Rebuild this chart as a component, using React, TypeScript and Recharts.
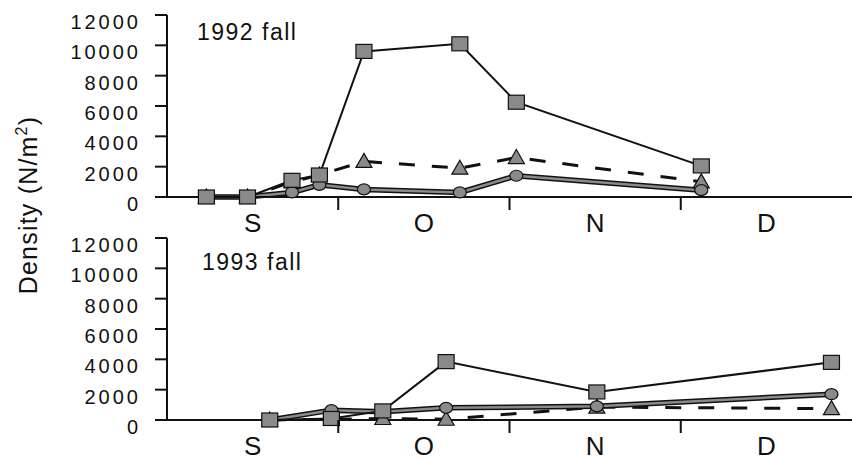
import { LineChart, Line, XAxis, YAxis } from "recharts"

const MONTHS = ["S", "O", "N", "D"]
const X_TICKS = [0.5, 1, 1.5, 2, 2.5, 3, 3.5]
const Y_TICKS = [0, 2000, 4000, 6000, 8000, 10000, 12000]

// sampling dates, in months after 1 Sep
const dates92 = [0.23, 0.47, 0.73, 0.89, 1.15, 1.71, 2.04, 3.12]
const squares92 = [0, 0, 1100, 1450, 9600, 10100, 6250, 2050]
const circles92 = [0, 0, 300, 800, 500, 300, 1400, 450]
const triangles92 = [0, 0, 1000, 1450, 2350, 1900, 2600, 1000]

const dates93 = [0.6, 0.96, 1.26, 1.63, 2.51, 3.88]
const squares93 = [0, 100, 600, 3850, 1850, 3800]
const circles93 = [0, 650, 550, 800, 900, 1700]
const triangles93 = [0, 50, 100, 50, 850, 750]

const FONT = "'Liberation Sans', Arial, Helvetica, sans-serif"
const INK = "#111"
const GREY = "#8a8a8a"

function rows(dates: number[], sq: number[], ci: number[], tr: number[]) {
  return dates.map((m, i) => ({ m, sq: sq[i], ci: ci[i], tr: tr[i] }))
}

function MonthTick(props: any) {
  const { x, y, payload } = props
  const v = payload.value as number
  if (Number.isInteger(v)) {
    return <line x1={x} y1={y} x2={x} y2={y + 13} stroke={INK} strokeWidth={2} />
  }
  return (
    <text x={x} y={y + 35} textAnchor="middle" fontSize={26} fontFamily={FONT} fill={INK}>
      {MONTHS[Math.floor(v)]}
    </text>
  )
}

const squareDot = (p: any) => (
  <rect key={`s${p.index}`} x={p.cx - 8} y={p.cy - 7} width={16} height={14}
    fill={GREY} stroke={INK} strokeWidth={1.2} />
)
const circleDot = (p: any) => (
  <ellipse key={`c${p.index}`} cx={p.cx} cy={p.cy} rx={6.5} ry={5.5}
    fill={GREY} stroke={INK} strokeWidth={1.2} />
)
const triangleDot = (p: any) => (
  <polygon key={`t${p.index}`}
    points={`${p.cx},${p.cy - 8} ${p.cx + 8},${p.cy + 6} ${p.cx - 8},${p.cy + 6}`}
    fill={GREY} stroke={INK} strokeWidth={1.2} />
)

function Panel({ data, top, height, axisH }: {
  data: ReturnType<typeof rows>; top: number; height: number; axisH: number
}) {
  return (
    <div style={{ position: "absolute", left: 0, top }}>
      <LineChart width={852} height={height} data={data}
        margin={{ top: 15, right: 0, bottom: 0, left: 0 }}>
        <XAxis
          dataKey="m" type="number" domain={[0, 4]} ticks={X_TICKS} interval={0}
          height={axisH} tickSize={0} tickMargin={0} tickLine={false}
          axisLine={{ stroke: INK, strokeWidth: 2 }}
          tick={<MonthTick />}
        />
        <YAxis
          domain={[0, 12000]} ticks={Y_TICKS} interval={0} width={167}
          tickSize={12} tickMargin={14}
          axisLine={{ stroke: INK, strokeWidth: 2 }}
          tickLine={{ stroke: INK, strokeWidth: 2 }}
          tick={{ fill: INK, fontSize: 20, fontFamily: FONT, letterSpacing: 3, dy: 7 }}
        />
        <Line dataKey="tr" stroke={INK} strokeWidth={3} strokeDasharray="16 17"
          dot={triangleDot} isAnimationActive={false} />
        <Line dataKey="ci" stroke={INK} strokeWidth={5.5} dot={false}
          isAnimationActive={false} />
        <Line dataKey="ci" stroke={GREY} strokeWidth={2.5} dot={circleDot}
          isAnimationActive={false} />
        <Line dataKey="sq" stroke={INK} strokeWidth={2} dot={squareDot}
          isAnimationActive={false} />
      </LineChart>
    </div>
  )
}

export default function App() {
  return (
    <div style={{ position: "absolute", left: 0, top: 0, width: 852, height: 460, background: "#fff", overflow: "hidden" }}>
      <Panel data={rows(dates92, squares92, circles92, triangles92)} top={0} height={240} axisH={43} />
      <Panel data={rows(dates93, squares93, circles93, triangles93)} top={223} height={237} axisH={40} />
      <svg width={852} height={460} style={{ position: "absolute", left: 0, top: 0, pointerEvents: "none" }}
        fontFamily={FONT} fill={INK}>
        <text x={197} y={40} fontSize={23} letterSpacing={1.5}>1992 fall</text>
        <text x={202} y={270} fontSize={23} letterSpacing={1.5}>1993 fall</text>
        <text transform="translate(37,205) rotate(-90)" textAnchor="middle" fontSize={25} letterSpacing={1.2}>
          Density (N/m<tspan fontSize={16} dy={-10}>2</tspan><tspan dy={10}>)</tspan>
        </text>
      </svg>
    </div>
  )
}
